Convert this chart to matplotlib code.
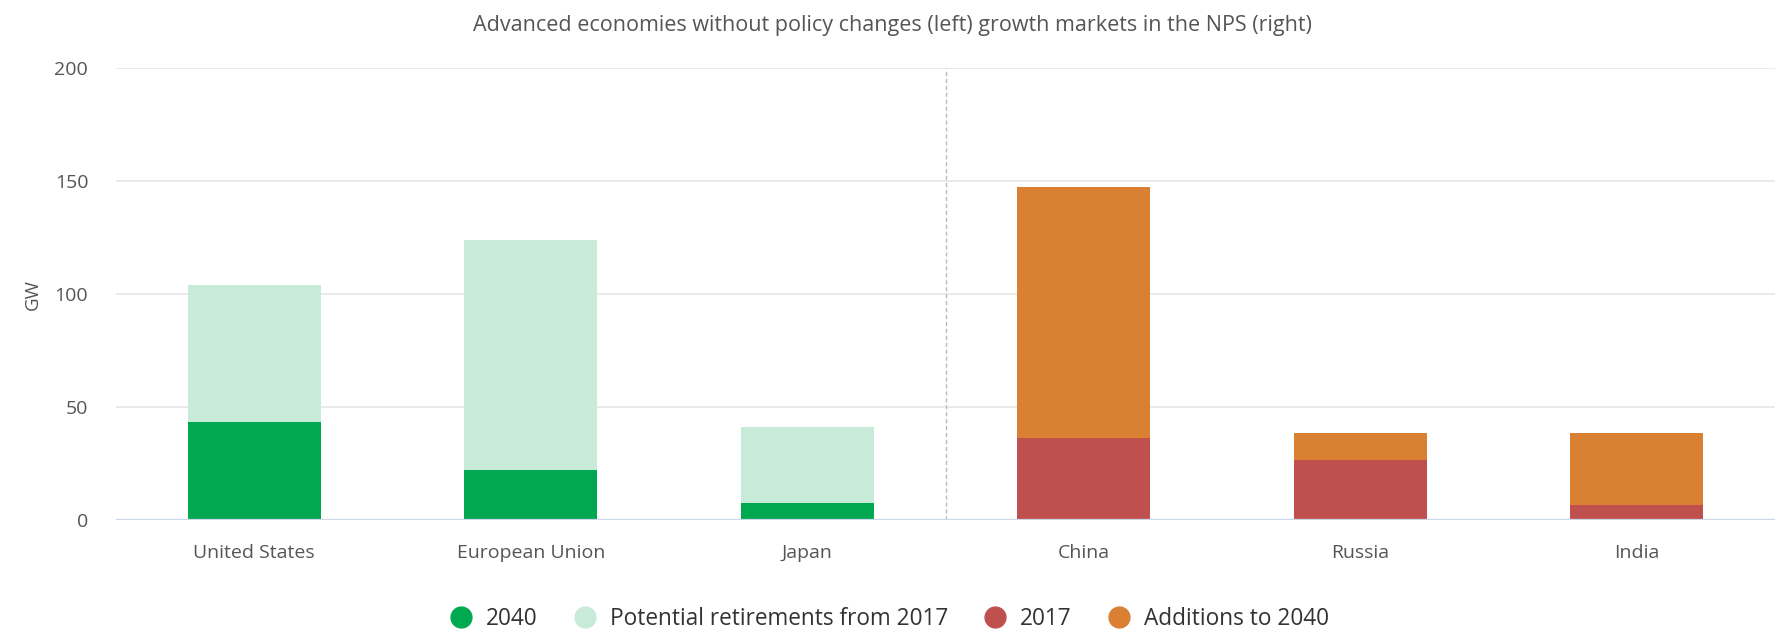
import matplotlib
matplotlib.use("Agg")
import matplotlib.pyplot as plt
from matplotlib.lines import Line2D
import numpy as np

plt.rcParams['font.family'] = ['Open Sans', 'DejaVu Sans']

# Coal-fired capacity (GW)
advanced = ["United States", "European Union", "Japan"]
capacity_2040 = [43.5, 22, 7.5]
retirements_from_2017 = [60.5, 102, 33.5]

growth = ["China", "Russia", "India"]
capacity_2017 = [36.5, 26.5, 6.5]
additions_to_2040 = [111, 12, 32]

yticks = [0, 50, 100, 150, 200]
title = "Advanced economies without policy changes (left) growth markets in the NPS (right)"

c_2040 = "#00A94F"
c_retire = "#C8EBD9"
c_2017 = "#C0504D"
c_add = "#D98033"
txt = "#555555"

fig = plt.figure(figsize=(17.75, 6.31), dpi=100)
ax = fig.add_axes([116 / 1775, 111 / 631, 1 - 116 / 1775, 452 / 631])

categories = advanced + growth
x_adv = np.arange(len(advanced))
x_gro = np.arange(len(advanced), len(categories))
w = 0.48

ax.bar(x_adv, capacity_2040, width=w, color=c_2040, zorder=3)
ax.bar(x_adv, retirements_from_2017, width=w, bottom=capacity_2040, color=c_retire, zorder=3)
ax.bar(x_gro, capacity_2017, width=w, color=c_2017, zorder=3)
ax.bar(x_gro, additions_to_2040, width=w, bottom=capacity_2017, color=c_add, zorder=3)

ax.set_xlim(-0.5, len(categories) - 0.5)
ax.set_ylim(0, 200)
ax.set_yticks(yticks)
ax.set_yticklabels([str(v) for v in yticks])
ax.set_xticks(np.arange(len(categories)))
ax.set_xticklabels(categories)
ax.tick_params(axis='both', length=0, labelsize=14, labelcolor=txt)
ax.tick_params(axis='y', pad=20)
ax.tick_params(axis='x', pad=17)

ax.grid(axis='y', color="#E6E6E6", lw=1.2, zorder=0)
for s in ax.spines.values():
    s.set_visible(False)
ax.axhline(0, color="#CCD6EB", lw=1.6, zorder=4)
ax.axvline(len(advanced) - 0.5, color="#BBBBBB", lw=1, ls=(0, (3, 2)), zorder=2)

ax.set_ylabel("GW", color=txt, fontsize=13.5, labelpad=9)

fig.text(0.503, 1 - 25 / 631, title, ha='center', va='center', fontsize=15.5, color=txt)

labels = ["2040", "Potential retirements from 2017", "2017", "Additions to 2040"]
colors = [c_2040, c_retire, c_2017, c_add]
handles = [Line2D([], [], ls='none', marker='o', markersize=15, markerfacecolor=c,
                  markeredgecolor=c) for c in colors]
fig.legend(handles, labels, loc='center', bbox_to_anchor=(0.501, 1 - 619 / 631), ncol=4,
           frameon=False, fontsize=16.3, labelcolor="#333333", handletextpad=0.6,
           columnspacing=1.6, handlelength=1.0)

fig.savefig("out.png", dpi=100, facecolor="white")
